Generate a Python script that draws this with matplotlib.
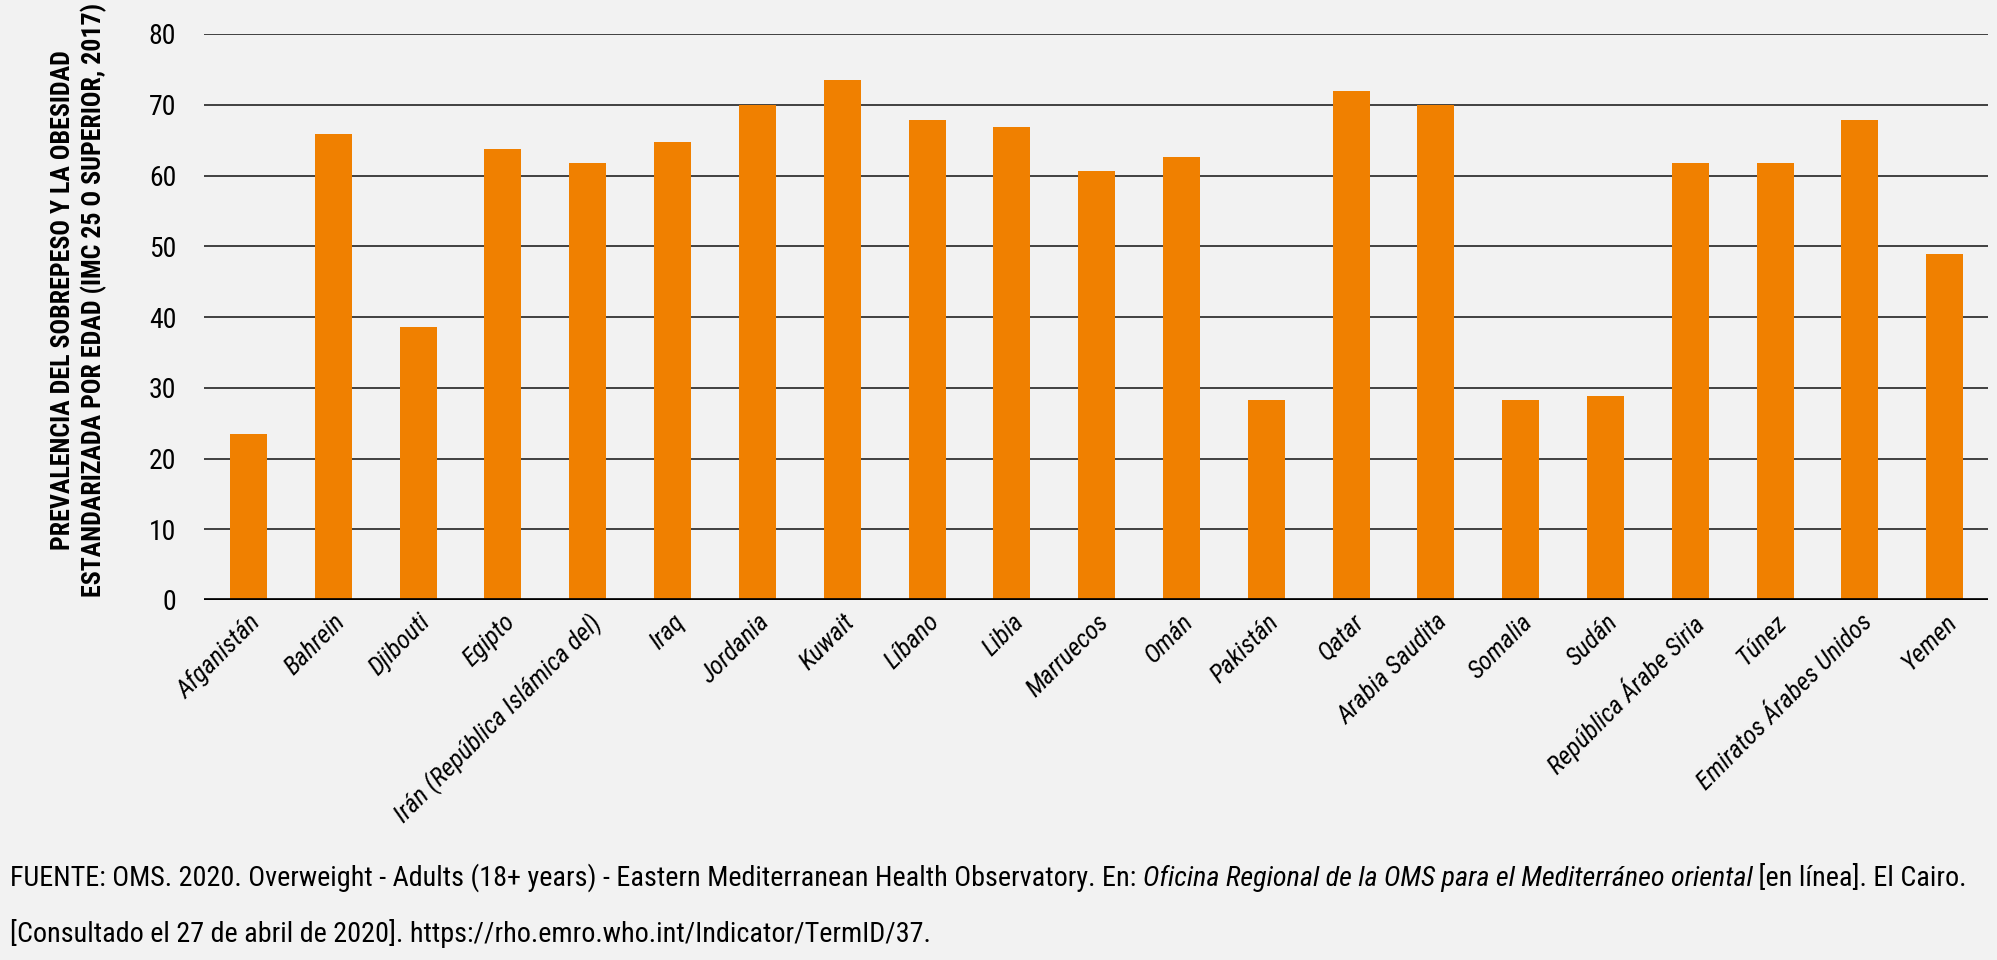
import matplotlib
matplotlib.use("Agg")
import matplotlib.pyplot as plt
from matplotlib import font_manager as fm
from matplotlib.font_manager import FontProperties

countries = ["Afganistán", "Bahrein", "Djibouti", "Egipto", "Irán (República Islámica del)",
             "Iraq", "Jordania", "Kuwait", "Líbano", "Libia", "Marruecos", "Omán",
             "Pakistán", "Qatar", "Arabia Saudita", "Somalia", "Sudán",
             "República Árabe Siria", "Túnez", "Emiratos Árabes Unidos", "Yemen"]
values = [23.4, 65.9, 38.6, 63.7, 61.7, 64.8, 70.0, 73.5, 67.9, 66.8, 60.6, 62.6,
          28.3, 72.0, 70.0, 28.3, 28.9, 61.7, 61.7, 67.9, 48.9]
yticks = [0, 10, 20, 30, 40, 50, 60, 70, 80]

ylabel_lines = ["PREVALENCIA DEL SOBREPESO Y LA OBESIDAD",
                "ESTANDARIZADA POR EDAD (IMC 25 O SUPERIOR, 2017)"]
foot1_a = "FUENTE: OMS. 2020. Overweight - Adults (18+ years) - Eastern Mediterranean Health Observatory. En: "
foot1_b = "Oficina Regional de la OMS para el Mediterráneo oriental"
foot1_c = " [en línea]. El Cairo."
foot2 = "[Consultado el 27 de abril de 2020]. https://rho.emro.who.int/Indicator/TermID/37."

BG = "#f2f2f2"
ORANGE = "#f08000"

# ---- pick a condensed font if one is installed ----
def _is_cond(f):
    s = str(f.stretch).lower()
    n = (f.name + " " + f.fname).lower()
    return ("condensed" in s or "narrow" in n or "condensed" in n) and "extra" not in n

cands = [f for f in fm.fontManager.ttflist if _is_cond(f)]
prio = ["liberation sans narrow", "roboto condensed", "open sans condensed",
        "noto sans condensed", "dejavu sans condensed", "dejavusanscondensed"]

def _score(f):
    n = (f.name + " " + f.fname).lower()
    for i, p in enumerate(prio):
        if p.replace(" ", "") in n.replace(" ", ""):
            return i
    return len(prio)

def pick(bold=False, italic=False):
    best = None
    for f in cands:
        w = f.weight if isinstance(f.weight, int) else (700 if "bold" in str(f.weight).lower() else 400)
        fb = w >= 600
        fi = str(f.style).lower() in ("italic", "oblique")
        if fb == bold and fi == italic:
            key = (_score(f), abs(w - (700 if bold else 400)))
            if best is None or key < best[0]:
                best = (key, f)
    if best is None:
        return FontProperties(family="DejaVu Sans",
                              weight="bold" if bold else "normal",
                              style="italic" if italic else "normal")
    return FontProperties(fname=best[1].fname)

fp_reg = pick()
fp_bold = pick(bold=True)
fp_it = pick(italic=True)

fig = plt.figure(figsize=(19.97, 9.60), dpi=100, facecolor=BG)
ax = fig.add_axes([204/1997, 1-600/960, (1988-204)/1997, (600-34)/960])
ax.set_facecolor(BG)
r = fig.canvas.get_renderer()

def fit(textobj, target_px):
    w = textobj.get_window_extent(r).width
    if w > 0:
        textobj.set_fontsize(textobj.get_fontsize() * target_px / w)

x = list(range(len(countries)))
ax.bar(x, values, width=0.436, color=ORANGE, zorder=3)

ax.set_ylim(0, 80)
ax.set_xlim(-0.525, 20.51)
ax.set_yticks(yticks)
ax.tick_params(axis="y", length=0, pad=20)
ax.tick_params(axis="x", length=0, pad=7)
ax.set_xticks(x)

ax.set_yticklabels([str(t) for t in yticks], fontproperties=fp_reg, fontsize=20)

probe = fig.text(0, 0, countries[4], fontproperties=fp_it, fontsize=16)
fit(probe, 282)
xtfs = probe.get_fontsize()
probe.remove()
ax.set_xticklabels(countries, rotation=45, ha="right", rotation_mode="anchor",
                   fontproperties=fp_it, fontsize=xtfs)

for t in yticks[1:]:
    ax.axhline(t, color="#333333", lw=1.3, zorder=1)
ax.axhline(0, color="black", lw=3.4, zorder=4)
for s in ax.spines.values():
    s.set_visible(False)

probe = fig.text(0, 0, ylabel_lines[1], fontproperties=fp_bold, fontsize=19)
fit(probe, 592)
ylfs = probe.get_fontsize()
probe.remove()
fig.text(79/1997, 1-300/960, "\n".join(ylabel_lines), rotation=90, ha="center",
         va="center", fontproperties=fp_bold, fontsize=ylfs, linespacing=1.3,
         multialignment="center")

# footnote: fit whole first line to ~1957 px
y1 = 1-886/960
y2 = 1-942/960
fs = 19.0
ta = fig.text(10/1997, y1, foot1_a, fontproperties=fp_reg, fontsize=fs, va="baseline")
tb = fig.text(0.5, y1, foot1_b, fontproperties=fp_it, fontsize=fs, va="baseline")
tc = fig.text(0.5, y1, foot1_c, fontproperties=fp_reg, fontsize=fs, va="baseline")
total = sum(t.get_window_extent(r).width for t in (ta, tb, tc))
scale = 1957 / total
for t in (ta, tb, tc):
    t.set_fontsize(fs * scale)
bb = ta.get_window_extent(r)
tb.set_position((bb.x1 / fig.bbox.width, y1))
bb = tb.get_window_extent(r)
tc.set_position((bb.x1 / fig.bbox.width, y1))
fig.text(10/1997, y2, foot2, fontproperties=fp_reg, fontsize=fs * scale, va="baseline")

fig.savefig("out.png", dpi=100, facecolor=BG)
